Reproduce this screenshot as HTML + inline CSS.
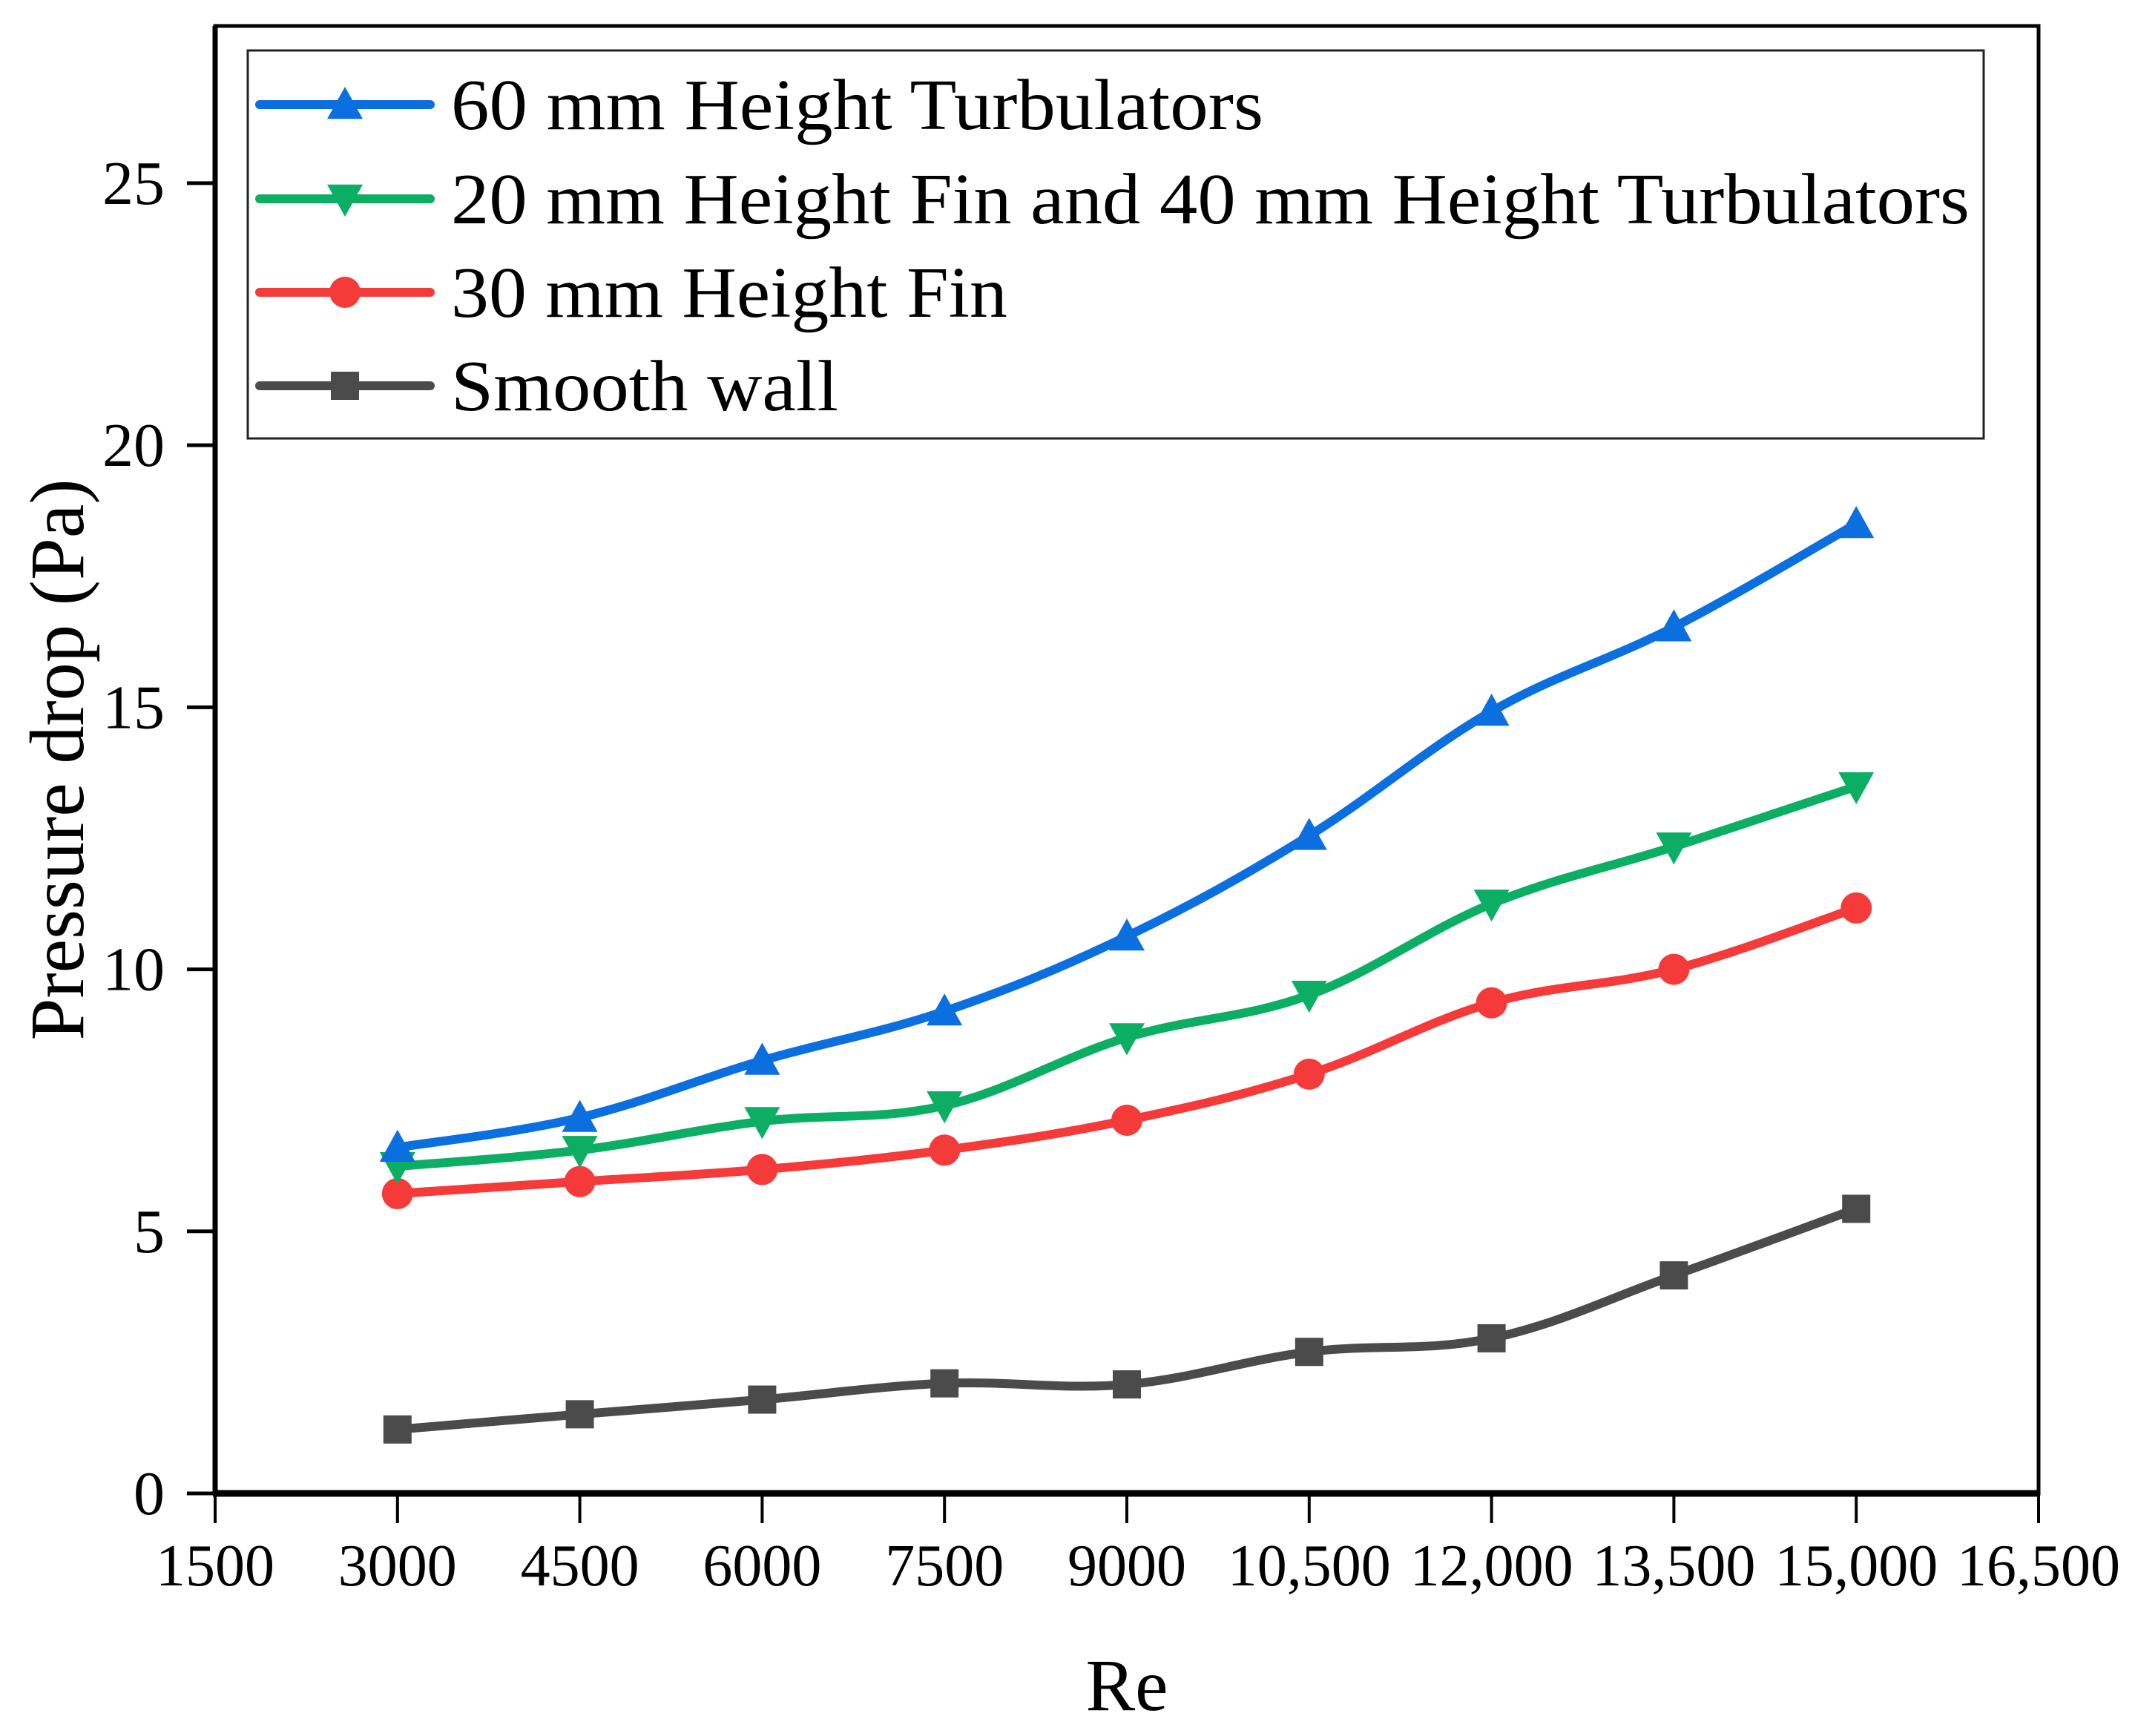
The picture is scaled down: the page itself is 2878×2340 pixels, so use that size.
<!DOCTYPE html>
<html><head><meta charset="utf-8"><style>
html,body{margin:0;padding:0;background:#fff;}
svg{display:block;font-family:"Liberation Serif","Times New Roman",serif;}
</style></head><body>
<svg id="chart" width="2878" height="2340" viewBox="0 0 2878 2340" xmlns="http://www.w3.org/2000/svg">
<g id="axes"></g>
<g id="series"></g>
<g id="legend"></g>
</svg>
<script>
const categories = [3000, 4500, 6000, 7500, 9000, 10500, 12000, 13500, 15000];
const blueValues = [6.6, 7.17, 8.26, 9.2, 10.63, 12.55, 14.92, 16.53, 18.5];
const greenValues = [6.24, 6.55, 7.1, 7.4, 8.7, 9.51, 11.25, 12.34, 13.49];
const redValues = [5.72, 5.95, 6.18, 6.55, 7.12, 8.0, 9.36, 10.0, 11.17];
const grayValues = [1.22, 1.51, 1.79, 2.1, 2.08, 2.7, 2.96, 4.16, 5.43];
const xTicks = [1500, 3000, 4500, 6000, 7500, 9000, 10500, 12000, 13500, 15000, 16500];
const xTickLabels = ["1500","3000","4500","6000","7500","9000","10,500","12,000","13,500","15,000","16,500"];
const yTicks = [0, 5, 10, 15, 20, 25];
const legendLabels = ["60 mm Height Turbulators","20 mm Height Fin and 40 mm Height Turbulators","30 mm Height Fin","Smooth wall"];

const NS = "http://www.w3.org/2000/svg";
const L = 290, R = 2748, B = 2013, T = 35;
const xMin = 1500, xMax = 16500, yMin = 0, yMax = 28;
function xs(v){ return L + (v - xMin) / (xMax - xMin) * (R - L); }
function ys(v){ return B - (v - yMin) / (yMax - yMin) * (B - T); }
function mk(tag, attrs, parent){
  const e = document.createElementNS(NS, tag);
  for (const k in attrs) e.setAttribute(k, attrs[k]);
  parent.appendChild(e); return e;
}
const axes = document.getElementById('axes');
const seriesG = document.getElementById('series');
const legendG = document.getElementById('legend');

let fr = mk('rect', {x:L, y:T, width:R-L, height:B-T, fill:'none', stroke:'#000', 'stroke-width':5}, axes);


let bl = mk('line', {x1:L-3, y1:B, x2:R, y2:B, stroke:'#000', 'stroke-width':9}, axes);


let ll = mk('line', {x1:L, y1:T, x2:L, y2:B, stroke:'#000', 'stroke-width':7}, axes);



xTicks.forEach((v, i) => {
  const t = mk('line', {x1:xs(v), y1:B, x2:xs(v), y2:B+40, stroke:'#000', 'stroke-width':4}, axes);
  
  
  const tx = mk('text', {x:xs(v), y:B+124, 'font-size':80, 'text-anchor':'middle', fill:'#000'}, axes);
  
  
  tx.textContent = xTickLabels[i];
});
yTicks.forEach(v => {
  const t = mk('line', {x1:L-38, y1:ys(v), x2:L, y2:ys(v), stroke:'#000', 'stroke-width':5}, axes);
  
  
  const tx = mk('text', {x:222, y:ys(v)+28, 'font-size':84, 'text-anchor':'end', fill:'#000'}, axes);
  
  
  tx.textContent = String(v);
});
const xt = mk('text', {x:1519, y:2305, 'font-size':100, 'text-anchor':'middle', fill:'#000'}, axes);


xt.textContent = 'Re';
const yt = mk('text', {x:0, y:0, 'font-size':104, 'text-anchor':'middle', fill:'#000', transform:'translate(112,1024) rotate(-90)', textLength:757, lengthAdjust:'spacingAndGlyphs'}, axes);


yt.textContent = 'Pressure drop (Pa)';

function smoothPath(pts){
  let d = 'M' + pts[0][0] + ',' + pts[0][1];
  for (let i = 0; i < pts.length - 1; i++){
    const p0 = pts[Math.max(0, i-1)], p1 = pts[i], p2 = pts[i+1], p3 = pts[Math.min(pts.length-1, i+2)];
    const t = 0.18;
    const c1x = p1[0] + (p2[0]-p0[0])*t, c1y = p1[1] + (p2[1]-p0[1])*t;
    const c2x = p2[0] - (p3[0]-p1[0])*t, c2y = p2[1] - (p3[1]-p1[1])*t;
    d += ' C' + c1x + ',' + c1y + ' ' + c2x + ',' + c2y + ' ' + p2[0] + ',' + p2[1];
  }
  return d;
}
function marker(type, cx, cy, color, parent){
  let e;
  const s = 24;
  if (type === 'up') e = mk('polygon', {points:`${cx},${cy-s} ${cx+s},${cy+s*0.8} ${cx-s},${cy+s*0.8}`, fill:color}, parent);
  else if (type === 'down') e = mk('polygon', {points:`${cx},${cy+s} ${cx+s},${cy-s*0.8} ${cx-s},${cy-s*0.8}`, fill:color}, parent);
  else if (type === 'circle') e = mk('circle', {cx:cx, cy:cy, r:21, fill:color}, parent);
  else e = mk('rect', {x:cx-19, y:cy-19, width:38, height:38, fill:color}, parent);
  return e;
}
const seriesDefs = [
  {vals: grayValues, color:'#4b4b4b', m:'square', name:'smooth-wall'},
  {vals: redValues, color:'#f53a3a', m:'circle', name:'30mm-fin'},
  {vals: greenValues, color:'#0cae64', m:'down', name:'20mm-fin-40mm-turbulators'},
  {vals: blueValues, color:'#0b6fe0', m:'up', name:'60mm-turbulators'}
];
seriesDefs.forEach(s => {
  const g = mk('g', {}, seriesG);
  
  
  const pts = categories.map((c, i) => [xs(c), ys(s.vals[i])]);
  const p = mk('path', {d:smoothPath(pts), fill:'none', stroke:s.color, 'stroke-width':12, 'stroke-linejoin':'round', 'stroke-linecap':'round'}, g);
  
  
  pts.forEach(pt => {
    const m = marker(s.m, pt[0], pt[1], s.color, g);
    
    
  });
});

const lb = mk('rect', {x:334, y:68, width:2340, height:523, fill:'#fff', stroke:'#222', 'stroke-width':3}, legendG);


const legRows = [141, 268, 394, 520];
const legOrder = [3, 2, 1, 0];
const legWidths = [1095, 2047, 750, 522];
legOrder.forEach((si, i) => {
  const s = seriesDefs[si];
  const y = legRows[i];
  const g = mk('g', {}, legendG);
  
  
  const ln = mk('line', {x1:350, y1:y, x2:580, y2:y, stroke:s.color, 'stroke-width':12, 'stroke-linecap':'round'}, g);
  
  
  const m = marker(s.m, 465, y, s.color, g);
  
  
  const tx = mk('text', {x:608, y:y+33, 'font-size':98, fill:'#000', textLength:legWidths[i], lengthAdjust:'spacingAndGlyphs'}, g);
  
  
  tx.textContent = legendLabels[i];
});
</script>
</body></html>
